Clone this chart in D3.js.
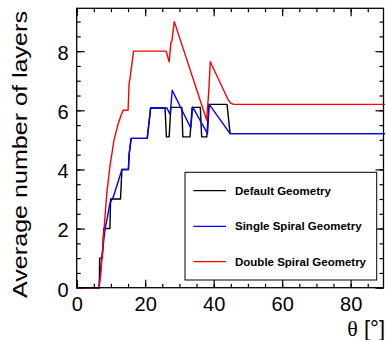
<!DOCTYPE html>
<html>
<head>
<meta charset="utf-8">
<script src="https://cdn.jsdelivr.net/npm/d3@7"></script>
<style>
  body { margin: 0; background: #fff; }
  svg { display: block; font-family: "Liberation Sans", Arial, sans-serif; }
</style>
</head>
<body>
<div id="chart"></div>
<script>
// theta [deg], average number of layers
const defaultGeom = [
  [0,0],[6.6,0],[6.7,1],[7.5,1],[7.9,2],[9.7,2],[9.9,3],[12.8,3],[13.2,4],[15.1,4],
  [15.3,4.5],[15.9,5.05],[20.6,5.05],[21.6,6.08],[25.8,6.08],[26.2,5.1],[27.0,5.1],
  [27.5,6.1],[30.7,6.1],[31.0,5.1],[33.1,5.1],[33.7,6.1],[36.1,6.1],[36.5,5.1],
  [38.0,5.1],[38.6,6.2],[43.9,6.2],[44.8,5.21],[90,5.21]
];
const singleSpiral = [
  [0,0],[6.5,0],[7.3,1.0],[8.3,2.0],[9.0,2.4],[9.7,2.85],[10.7,3.07],[13.2,4.0],
  [15.1,4.0],[15.3,4.5],[15.9,5.05],[20.6,5.05],[21.6,6.08],[26.3,6.08],[27.3,5.86],
  [27.9,6.68],[33.3,5.4],[33.9,6.11],[38.2,5.21],[38.7,6.2],[44.8,5.21],[90,5.21]
];
const doubleSpiral = [
  [0,0],[6.5,0],[7.0,0.4],[7.5,1.2],[8.0,2.0],[8.8,3.2],[9.7,4.1],[10.9,5.0],
  [12.0,5.5],[13.0,5.85],[13.6,6.0],[15.0,6.0],[15.3,6.9],[15.6,7.1],[16.6,8.0],
  [26.1,8.0],[27.0,7.64],[27.5,8.28],[27.8,8.35],[28.5,9.0],[37.95,5.67],[38.6,6.7],
  [39.0,7.64],[44.3,6.34],[45.0,6.24],[45.8,6.2],[90,6.2]
];
const seriesNames = ["Default Geometry", "Single Spiral Geometry", "Double Spiral Geometry"];
const seriesData = [defaultGeom, singleSpiral, doubleSpiral];
const seriesColors = ["#000000", "#0000ff", "#ff0000"];
const xTicks = [0, 20, 40, 60, 80];
const yTicks = [0, 2, 4, 6, 8];

const width = 386, height = 340;
const m = { left: 76.7, right: 383.5, top: 8.3, bottom: 287.7 };

const x = d3.scaleLinear().domain([0, 89.6]).range([m.left, m.right]);
const y = d3.scaleLinear().domain([0, 9.45]).range([m.bottom, m.top]);

const svg = d3.select("#chart").append("svg")
  .attr("width", width).attr("height", height);

const xMinor = d3.range(0, 90, 5);
const yMinor = d3.range(0, 9.5, 0.5);

function styleAxis(g) {
  g.select(".domain").remove();
  g.selectAll(".tick line").attr("stroke", "#000").attr("stroke-width", 1.2);
}

// bottom
svg.append("g").attr("transform", `translate(0,${m.bottom})`)
  .call(d3.axisBottom(x).tickValues(xMinor).tickSize(-4).tickFormat(""))
  .call(styleAxis);
svg.append("g").attr("transform", `translate(0,${m.bottom})`)
  .call(d3.axisBottom(x).tickValues(xTicks).tickSize(-8).tickPadding(9))
  .call(styleAxis)
  .call(g => g.selectAll("text").attr("font-size", 20).attr("fill", "#000")
    .attr("font-family", "Liberation Sans, Arial, sans-serif"));
// top
svg.append("g").attr("transform", `translate(0,${m.top})`)
  .call(d3.axisTop(x).tickValues(xMinor).tickSize(-4).tickFormat(""))
  .call(styleAxis);
svg.append("g").attr("transform", `translate(0,${m.top})`)
  .call(d3.axisTop(x).tickValues(xTicks).tickSize(-8).tickFormat(""))
  .call(styleAxis);
// left
svg.append("g").attr("transform", `translate(${m.left},0)`)
  .call(d3.axisLeft(y).tickValues(yMinor).tickSize(-4).tickFormat(""))
  .call(styleAxis);
svg.append("g").attr("transform", `translate(${m.left},0)`)
  .call(d3.axisLeft(y).tickValues(yTicks).tickSize(-8).tickPadding(8))
  .call(styleAxis)
  .call(g => g.selectAll("text").attr("font-size", 20).attr("fill", "#000").attr("dy", "0.42em")
    .attr("font-family", "Liberation Sans, Arial, sans-serif"));
// right
svg.append("g").attr("transform", `translate(${m.right},0)`)
  .call(d3.axisRight(y).tickValues(yMinor).tickSize(-4).tickFormat(""))
  .call(styleAxis);
svg.append("g").attr("transform", `translate(${m.right},0)`)
  .call(d3.axisRight(y).tickValues(yTicks).tickSize(-8).tickFormat(""))
  .call(styleAxis);

// curves
const line = d3.line().x(d => x(d[0])).y(d => y(d[1]));
const plot = svg.append("g");
seriesData.forEach((s, i) => {
  plot.append("path")
    .datum(s)
    .attr("d", line)
    .attr("fill", "none")
    .attr("stroke", seriesColors[i])
    .attr("stroke-width", 1.4)
    .attr("stroke-linejoin", "round");
});

// frame
svg.append("rect")
  .attr("x", m.left).attr("y", m.top)
  .attr("width", m.right - m.left).attr("height", m.bottom - m.top)
  .attr("fill", "none").attr("stroke", "#000").attr("stroke-width", 1.3);

// legend
const lg = svg.append("g");
lg.append("rect")
  .attr("x", 185).attr("y", 172.3).attr("width", 191.7).attr("height", 107.7)
  .attr("fill", "#fff").attr("stroke", "#000").attr("stroke-width", 1);
const rowY = [190.7, 226.3, 261.7];
seriesNames.forEach((name, i) => {
  lg.append("line")
    .attr("x1", 193.3).attr("x2", 226)
    .attr("y1", rowY[i]).attr("y2", rowY[i])
    .attr("stroke", seriesColors[i]).attr("stroke-width", 1.2);
  lg.append("text")
    .attr("x", 235).attr("y", rowY[i]).attr("dy", "0.35em")
    .attr("font-size", 11.5).attr("font-weight", "bold")
    .text(name);
});

// axis titles
svg.append("text")
  .attr("transform", "translate(26.5,11) rotate(-90)")
  .attr("text-anchor", "end")
  .attr("font-size", 21)
  .attr("textLength", 287).attr("lengthAdjust", "spacingAndGlyphs")
  .text("Average number of layers");
const xt = svg.append("text")
  .attr("x", 385).attr("y", 336)
  .attr("text-anchor", "end")
  .attr("font-size", 22);
xt.append("tspan").attr("font-family", "Liberation Serif, Times New Roman, serif").text("θ");
xt.append("tspan").text(" [°]");
</script>
</body>
</html>
